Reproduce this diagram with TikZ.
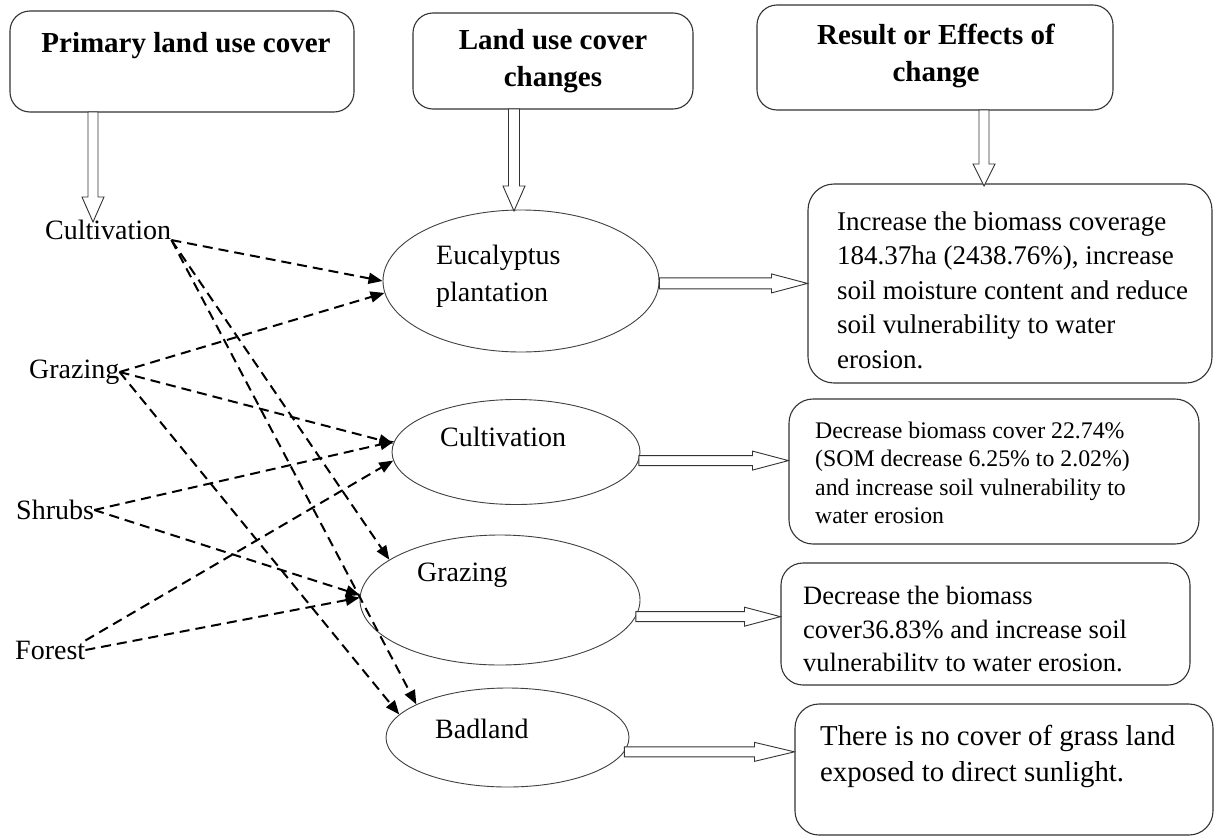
\documentclass[tikz,border=0pt]{standalone}
\usepackage{fontspec}
\setmainfont{Liberation Serif}
\usetikzlibrary{shapes.geometric,arrows.meta,calc}
\tikzset{
  rbox/.style={draw=black!80, line width=1.1pt, rounded corners=20pt, inner sep=0pt},
  oval/.style={ellipse, draw=black!75, line width=0.9pt, inner sep=0pt},
  ttl/.style={inner sep=0pt, align=center, font=\bfseries\fontsize{29}{37}\selectfont},
  lbl/.style={anchor=west, inner sep=0pt, align=left, font=\fontsize{28}{37}\selectfont},
  dasharr/.style={line width=2pt, dash pattern=on 10pt off 6pt, -{Triangle[length=14pt,width=11pt]}},
  hollow/.style={draw=black!80, line width=0.9pt, fill=white, line join=miter},
}
\newcommand\hollowarrow[5]{%
  \path (#2) coordinate (hhT) ($(#2)!#3!(#1)$) coordinate (hhB) (#1) coordinate (hhS);
  \draw[hollow] ($(hhS)!#5!90:(hhT)$) -- ($(hhB)!#5!90:(hhT)$) -- ($(hhB)!#4!90:(hhT)$)
    -- (hhT) -- ($(hhB)!#4!-90:(hhT)$) -- ($(hhB)!#5!-90:(hhT)$) -- ($(hhS)!#5!-90:(hhT)$) -- cycle;}
\begin{document}
\begin{tikzpicture}[x=1pt,y=-1pt]
\fill[white] (0,0) rectangle (1215,838);
\useasboundingbox (0,0) rectangle (1215,838);

% header boxes
\node[rbox, minimum width=344pt, minimum height=101pt] (b1) at (182,61.5) {};
\node[rbox, minimum width=280pt, minimum height=96pt] (b2) at (553,61) {};
\node[rbox, minimum width=356pt, minimum height=105pt] (b3) at (935,57.5) {};
\node[ttl] (t1) at (186,46) {Primary land use cover};
\node[ttl] (t2) at (553,61.5) {Land use cover\\changes};
\node[ttl] (t3) at (936,56) {Result or Effects of\\change};

% result boxes
\node[rbox, rounded corners=26pt, minimum width=404pt, minimum height=199pt] (b4) at (1010,283.5) {};
\node[rbox, rounded corners=24pt, minimum width=410pt, minimum height=145pt] (b5) at (994,471.5) {};
\node[rbox, rounded corners=22pt, minimum width=409pt, minimum height=122pt] (b6) at (985.5,624) {};
\node[rbox, rounded corners=24pt, minimum width=418pt, minimum height=131pt] (b7) at (1004,769.5) {};
\node[lbl, font=\fontsize{27}{34.5}\selectfont] (x4) at (837,290) {Increase the biomass coverage\\184.37ha (2438.76\%), increase\\soil moisture content and reduce\\soil vulnerability to water\\erosion.};
\node[lbl, font=\fontsize{23.8}{28.5}\selectfont] (x5) at (815,473) {Decrease biomass cover 22.74\%\\(SOM decrease 6.25\% to 2.02\%)\\and increase soil vulnerability to\\water erosion};
\node[lbl, font=\fontsize{26.5}{33.5}\selectfont] (x6) at (803,629) {Decrease the biomass\\cover36.83\% and increase soil\\vulnerabilitv to water erosion.};
\node[lbl, font=\fontsize{28.8}{36}\selectfont] (x7) at (820,756) {There is no cover of grass land\\exposed to direct sunlight.};

% ellipses
\node[oval, minimum width=276pt, minimum height=142pt] (euc) at (521,281) {};
\node[oval, minimum width=248pt, minimum height=105pt] (cul) at (516,452) {};
\node[oval, minimum width=280pt, minimum height=130pt] (graz) at (500,600) {};
\node[oval, minimum width=243pt, minimum height=99pt] (bad) at (507.5,737.5) {};
\node[lbl] (te) at (436,276) {Eucalyptus\\plantation};
\node[lbl] (tc) at (440,437) {Cultivation};
\node[lbl] (tg) at (417,575) {Grazing};
\node[lbl] (tb) at (435,729) {Badland};

% primary land uses
\node[lbl] (cl) at (45,230) {Cultivation};
\node[lbl] (gl) at (29,372) {Grazing};
\node[lbl] (sl) at (16,510) {Shrubs};
\node[lbl] (fl) at (15,650) {Forest};

% hollow arrows
\coordinate (h1s) at (93,112);
\coordinate (h1e) at (93,222);
\coordinate (h2s) at (514,109);
\coordinate (h2e) at (514,211);
\coordinate (h3s) at (984,110);
\coordinate (h3e) at (984,186);
\hollowarrow{h1s}{h1e}{25pt}{11pt}{5pt}
\hollowarrow{h2s}{h2e}{25pt}{11pt}{5.5pt}
\hollowarrow{h3s}{h3e}{22pt}{11pt}{5pt}
\coordinate (h4e) at (euc.-1 -| b4.west);
\coordinate (h5e) at (cul.-4 -| b5.west);
\coordinate (h6e) at (graz.-7 -| b6.west);
\coordinate (h7e) at (bad.-7 -| b7.west);
\hollowarrow{euc.-1}{h4e}{36pt}{9.5pt}{5.5pt}
\hollowarrow{cul.-4}{h5e}{36pt}{9.5pt}{5pt}
\hollowarrow{graz.-7}{h6e}{36pt}{9.5pt}{5pt}
\hollowarrow{bad.-7}{h7e}{40pt}{9.5pt}{5pt}

% dashed transitions
\draw[dasharr] (cl.south east) -- (euc.180);
\draw[dasharr] (cl.south east) -- (graz.160);
\draw[dasharr] (cl.south east) -- (bad.160);
\draw[dasharr] (gl.east) -- (euc.185);
\draw[dasharr] (gl.east) -- (cul.176);
\draw[dasharr] (gl.east) -- (bad.168);
\draw[dasharr] (sl.east) -- (cul.175);
\draw[dasharr] (sl.east) -- (graz.178);
\draw[dasharr] (fl.north east) -- (cul.184);
\draw[dasharr] (fl.east) -- (graz.179);
\end{tikzpicture}
\end{document}
